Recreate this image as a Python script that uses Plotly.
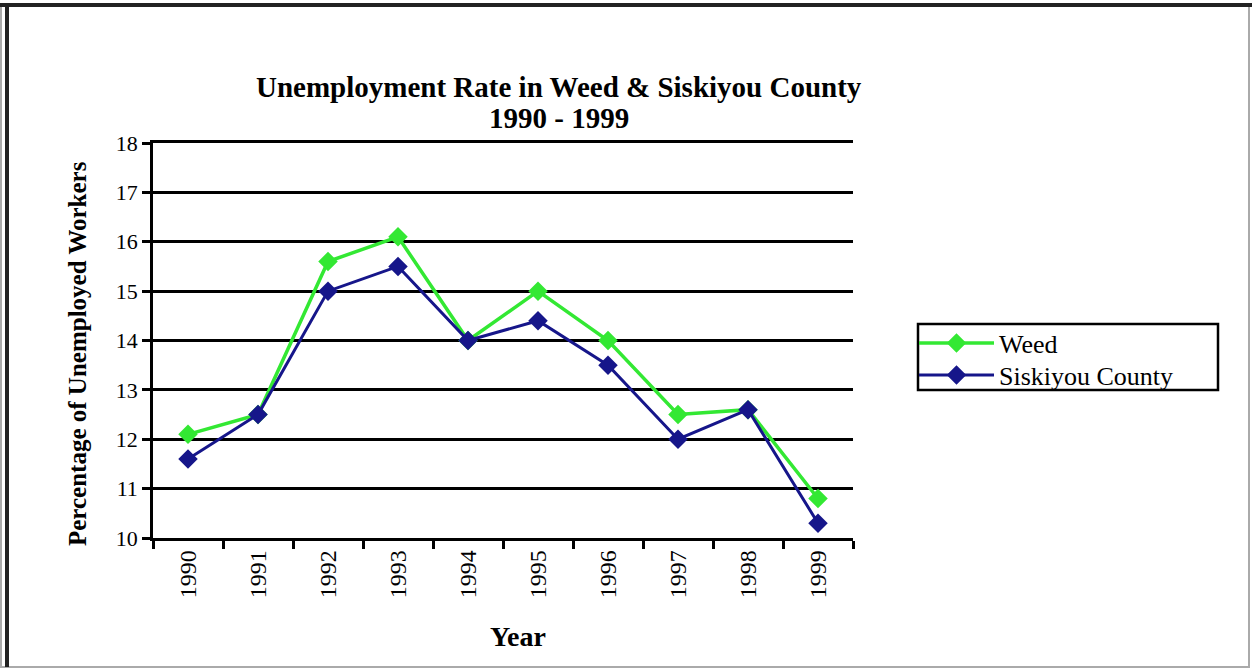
import plotly.graph_objects as go

years = ["1990", "1991", "1992", "1993", "1994", "1995", "1996", "1997", "1998", "1999"]
weed = [12.1, 12.5, 15.6, 16.1, 14.0, 15.0, 14.0, 12.5, 12.6, 10.8]
siskiyou = [11.6, 12.5, 15.0, 15.5, 14.0, 14.4, 13.5, 12.0, 12.6, 10.3]

W, H = 1252, 669
L, R, T, B = 153, 853, 143, 538

def px(x):
    return (x - L) / (R - L)

def py(y):
    return (B - y) / (B - T)

serif = "Liberation Serif, Times New Roman, serif"

fig = go.Figure()
fig.add_trace(go.Scatter(
    x=years, y=weed, name="Weed", mode="lines+markers",
    line=dict(color="#33e833", width=3.5),
    marker=dict(symbol="diamond", size=15, color="#33e833"),
    legend="legend",
))
fig.add_trace(go.Scatter(
    x=years, y=siskiyou, name="Siskiyou County", mode="lines+markers",
    line=dict(color="#16168a", width=3),
    marker=dict(symbol="diamond", size=15, color="#16168a"),
    legend="legend2",
))

leg_common = dict(
    x=px(914), xanchor="left", yanchor="middle",
    borderwidth=0, bgcolor="rgba(0,0,0,0)",
    font=dict(family=serif, size=26), itemwidth=75,
)

fig.update_layout(
    width=W, height=H,
    margin=dict(l=L, r=W - R, t=T, b=H - B),
    paper_bgcolor="white", plot_bgcolor="white",
    font=dict(family=serif, color="black", size=22),
    xaxis=dict(
        type="category", tickson="boundaries", ticks="outside", ticklen=8,
        tickwidth=2.5, tickcolor="black", showline=True, linecolor="black",
        linewidth=2.5, mirror=True, showgrid=False, tickangle=-90, zeroline=False,
        tickfont=dict(family=serif, size=24), range=[-0.5, 9.5],
    ),
    yaxis=dict(
        range=[10, 18], dtick=1, ticks="outside", ticklen=8, tickwidth=2.5,
        tickcolor="black", showline=True, linecolor="black", linewidth=2.5,
        showgrid=True, gridcolor="black", gridwidth=2.5, zeroline=False,
        tickfont=dict(family=serif, size=22),
    ),
    showlegend=True,
    legend=dict(y=py(343), **leg_common),
    legend2=dict(y=py(375), **leg_common),
)

# legend frame
fig.add_shape(type="rect", xref="paper", yref="paper",
              x0=px(918), x1=px(1218), y0=py(390), y1=py(324),
              line=dict(color="black", width=2.5), fillcolor="rgba(0,0,0,0)")

fig.add_annotation(
    text="<b>Unemployment Rate in Weed & Siskiyou County</b>",
    x=px(559), y=py(87), xref="paper", yref="paper", showarrow=False,
    xanchor="center", yanchor="middle",
    font=dict(family=serif, size=29, color="black"),
)
fig.add_annotation(
    text="<b>1990 - 1999</b>",
    x=px(559), y=py(118), xref="paper", yref="paper", showarrow=False,
    xanchor="center", yanchor="middle",
    font=dict(family=serif, size=29, color="black"),
)
fig.add_annotation(
    text="<b>Percentage of Unemployed Workers</b>", textangle=-90,
    x=px(77), y=py(354), xref="paper", yref="paper", showarrow=False,
    xanchor="center", yanchor="middle",
    font=dict(family=serif, size=25, color="black"),
)
fig.add_annotation(
    text="<b>Year</b>", x=px(518), y=py(636), xref="paper", yref="paper",
    showarrow=False, xanchor="center", yanchor="middle",
    font=dict(family=serif, size=28, color="black"),
)

# outer frame
fig.add_shape(type="rect", xref="paper", yref="paper",
              x0=px(1), x1=px(1249), y0=py(667), y1=py(5),
              line=dict(color="#aaaaaa", width=2), layer="below")
fig.add_shape(type="line", xref="paper", yref="paper",
              x0=px(0), x1=px(1252), y0=py(5), y1=py(5),
              line=dict(color="#222222", width=4))
fig.add_shape(type="line", xref="paper", yref="paper",
              x0=px(7), x1=px(7), y0=py(5), y1=py(667),
              line=dict(color="#222222", width=4))

fig.write_html("out.html", config={"displayModeBar": False},
               post_script="document.body.style.margin='0';")
